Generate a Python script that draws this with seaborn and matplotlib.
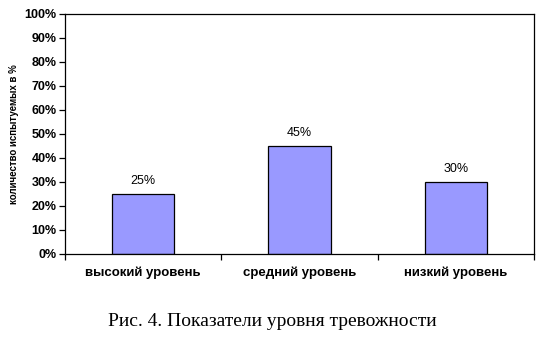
import matplotlib
matplotlib.use("Agg")
import matplotlib.pyplot as plt
import seaborn as sns
import pandas as pd
from matplotlib.ticker import FixedLocator, NullFormatter

categories = ["высокий уровень", "средний уровень", "низкий уровень"]
values = [25, 45, 30]
value_labels = ["25%", "45%", "30%"]
y_ticks = [0, 10, 20, 30, 40, 50, 60, 70, 80, 90, 100]
y_tick_labels = [f"{t}%" for t in y_ticks]
y_title = "количество испытуемых в %"
caption = "Рис. 4. Показатели уровня тревожности"

sns.set_theme(style="white")
plt.rcParams["font.family"] = ["Liberation Sans", "DejaVu Sans"]
plt.rcParams["text.color"] = "black"
plt.rcParams["axes.labelcolor"] = "black"
plt.rcParams["xtick.color"] = "black"
plt.rcParams["ytick.color"] = "black"

df = pd.DataFrame({"cat": categories, "val": values})

fig = plt.figure(figsize=(5.45, 3.38), dpi=100)
ax = fig.add_axes([65 / 545, 1 - 254 / 338, (534 - 65) / 545, (254 - 14) / 338])

sns.barplot(data=df, x="cat", y="val", ax=ax, color="#9999FF", saturation=1,
            width=0.4, edgecolor="black", linewidth=0.9)

ax.set_xlim(-0.5, 2.5)
ax.set_ylim(0, 100)
ax.set_yticks(y_ticks)
ax.set_yticklabels(y_tick_labels, fontsize=9, fontweight="bold", color="black")
ax.set_xticks(range(len(categories)))
ax.set_xticklabels(categories, fontsize=9.5, fontweight="bold", color="black")
ax.tick_params(axis="x", length=0, pad=9)
ax.tick_params(axis="y", direction="out", length=4, width=0.9, color="black", pad=2, left=True)
ax.xaxis.set_minor_locator(FixedLocator([-0.5, 0.5, 1.5, 2.5]))
ax.xaxis.set_minor_formatter(NullFormatter())
ax.tick_params(axis="x", which="minor", direction="out", length=4, width=0.9, color="black", bottom=True)
ax.set_xlabel("")
ax.set_ylabel(y_title, fontsize=7, fontweight="bold", labelpad=4, color="black")
for s in ax.spines.values():
    s.set_visible(True)
    s.set_color("black")
    s.set_linewidth(0.9)

for i, (v, lab) in enumerate(zip(values, value_labels)):
    ax.text(i, v + 3, lab, ha="center", va="bottom", fontsize=9, color="black")

fig.text(272 / 545, 1 - 322 / 338, caption, ha="center", va="center", color="black",
         fontsize=14, family=["Liberation Serif", "DejaVu Serif"])

fig.savefig("out.png", dpi=100, facecolor="white")
